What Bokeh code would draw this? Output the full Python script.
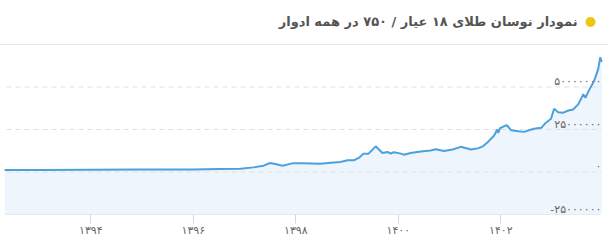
from bokeh.plotting import figure
from bokeh.models import FixedTicker, Span
from bokeh.core.properties import value
from bokeh.embed import file_html
from bokeh.resources import INLINE

# Solar Hijri year (fractional) and 18k gold price (rial per gram)
years = [1392.32, 1393.0, 1394.0, 1394.96, 1396.0, 1396.52, 1396.92, 1397.17, 1397.37,
         1397.50, 1397.60, 1397.74, 1397.93, 1398.15, 1398.48, 1398.68, 1398.87, 1399.01,
         1399.13, 1399.23, 1399.32, 1399.42, 1399.56, 1399.69, 1399.79, 1399.85, 1399.91,
         1400.05, 1400.11, 1400.24, 1400.44, 1400.63, 1400.73, 1400.89, 1401.06, 1401.22,
         1401.42, 1401.55, 1401.65, 1401.75, 1401.87, 1401.93, 1401.95, 1401.98, 1402.06,
         1402.12, 1402.20, 1402.34, 1402.45, 1402.55, 1402.65, 1402.79, 1402.88, 1402.98,
         1403.04, 1403.12, 1403.22, 1403.32, 1403.41, 1403.51, 1403.61, 1403.65, 1403.73,
         1403.82, 1403.90, 1403.94, 1403.97]
prices = [1180000, 1240000, 1360000, 1420000, 1480000, 1770000, 1950000, 2720000, 3720000,
          5320000, 4730000, 3720000, 5080000, 5080000, 4910000, 5500000, 5910000, 6860000,
          6860000, 8270000, 10800000, 10800000, 15100000, 11200000, 11800000, 10800000, 11600000,
          10800000, 10200000, 11200000, 12000000, 12600000, 13400000, 12400000, 13200000, 14800000,
          13200000, 13900000, 15100000, 17700000, 21500000, 25000000, 23000000, 25600000, 26900000,
          27500000, 24600000, 24000000, 23600000, 24600000, 25400000, 26000000, 29000000, 31300000,
          37200000, 35200000, 34900000, 36200000, 36800000, 39800000, 45700000, 43700000, 48600000,
          53500000, 60500000, 67400000, 64800000]

x_ticks = [1394, 1396, 1398, 1400, 1402]
x_tick_labels = ["۱۳۹۴", "۱۳۹۶", "۱۳۹۸", "۱۴۰۰", "۱۴۰۲"]
y_ticks = [-25000000, 0, 25000000, 50000000]
y_tick_labels = ["-۲۵۰۰۰۰۰۰", "۰", "۲۵۰۰۰۰۰۰", "۵۰۰۰۰۰۰۰"]
title_text = "نمودار نوسان طلای ۱۸ عیار / ۷۵۰ در همه ادوار"

FONT = "DejaVu Sans"

# layout constants (pixels) -> data ranges
W, H = 608, 245
PLOT_TOP, PLOT_BOTTOM = 44, 214          # y-pixels of top rule (75M) and x-axis (-25M)
PLOT_LEFT, PLOT_RIGHT = 5, 601
PX_PER_YEAR = 51.25
X_AT_1394 = 90.3
Y0, Y_TOP_RULE = -25000000, 75000000
px_per_val = (PLOT_BOTTOM - PLOT_TOP) / (Y_TOP_RULE - Y0)

X0 = 1394 - X_AT_1394 / PX_PER_YEAR
X1 = 1394 + (W - X_AT_1394) / PX_PER_YEAR
Y1 = Y_TOP_RULE + PLOT_TOP / px_per_val


def x_at(px):
    return 1394 + (px - X_AT_1394) / PX_PER_YEAR


def y_at(py):
    return Y0 + (PLOT_BOTTOM - py) / px_per_val


p = figure(width=W, height=H, x_range=(X0, X1), y_range=(Y0, Y1),
           output_backend="svg", toolbar_location=None, y_axis_location=None,
           min_border_left=0, min_border_right=0, min_border_top=0,
           min_border_bottom=H - PLOT_BOTTOM)
p.outline_line_color = None
p.background_fill_color = "white"
p.border_fill_color = "white"

p.xgrid.visible = False
p.ygrid.visible = False

p.xaxis.ticker = FixedTicker(ticks=x_ticks)
p.xaxis.major_label_overrides = {t: l for t, l in zip(x_ticks, x_tick_labels)}
p.xaxis.axis_line_color = None
p.xaxis.major_tick_line_color = "#ccd6eb"
p.xaxis.major_tick_out = 9
p.xaxis.major_tick_in = 0
p.xaxis.minor_tick_line_color = None
p.xaxis.major_label_text_font_size = "11px"
p.xaxis.major_label_text_color = "#666666"
p.xaxis.major_label_text_font = FONT
p.xaxis.major_label_standoff = 0

# top rule across the full width
p.add_layout(Span(location=Y_TOP_RULE, dimension="width", line_color="#e6e6e6", line_width=1))

p.varea(x=years, y1=Y0, y2=prices, fill_color="#eef5fc")

# dashed horizontal grid lines (not at the axis itself)
grid_vals = [v for v in y_ticks if v != Y0]
n = len(grid_vals)
p.segment(x0=[x_at(PLOT_LEFT + 1)] * n, x1=[x_at(PLOT_RIGHT)] * n, y0=grid_vals, y1=grid_vals,
          line_color="#e0e0e0", line_width=1, line_dash="5 4")

p.line(years, prices, line_color="#4ca0dc", line_width=2)

# x-axis line
p.segment(x0=[x_at(PLOT_LEFT)], x1=[x_at(PLOT_RIGHT - 1)], y0=[Y0], y1=[Y0],
          line_color="#ccd6eb", line_width=1)

# y tick labels, inside the plot at the right
lab_x = x_at(PLOT_RIGHT)
p.text(x=[lab_x] * len(y_ticks), y=y_ticks, text=y_tick_labels, text_align="right",
       text_baseline="middle", y_offset=-5.5, text_font_size="11px",
       text_color="#666666", text_font=value(FONT))

# title with yellow dot
p.text(x=[x_at(577)], y=[y_at(21)], text=[title_text], text_align="right",
       text_baseline="middle", text_font_size="13px", text_font_style="bold",
       text_color="#555555", text_font=value(FONT))
p.scatter(x=[x_at(590)], y=[y_at(21.5)], size=10, marker="circle",
          fill_color="#f1c40f", line_color=None)

open("out.html", "w").write(file_html(p, INLINE))
